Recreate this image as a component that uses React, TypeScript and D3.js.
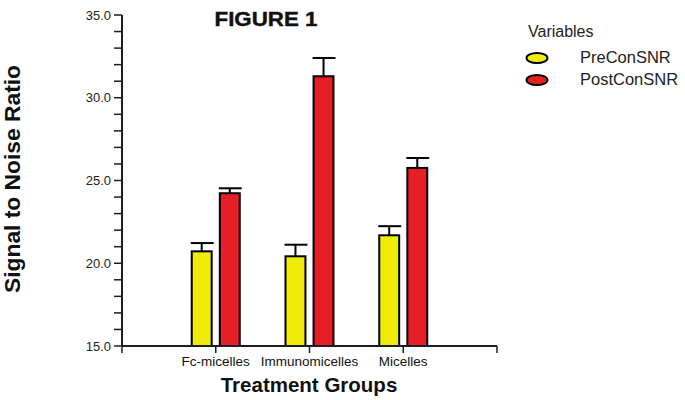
import React from "react";
import * as d3 from "d3";

const categories = ["Fc-micelles", "Immunomicelles", "Micelles"];
const seriesNames = ["PreConSNR", "PostConSNR"];
const preValues = [20.72, 20.42, 21.69];
const preErrors = [0.5, 0.7, 0.55];
const postValues = [24.23, 31.3, 25.76];
const postErrors = [0.3, 1.1, 0.6];
const yMajorTicks = [15, 20, 25, 30, 35];
const seriesColors = ["#efec0a", "#e61e26"];

const W = 685;
const H = 400;
const axisColor = "#1c1c2a";
const font = "Arial, 'Liberation Sans', sans-serif";

export default function App() {
  const x0 = 122;
  const x1 = 497;
  const yTop = 15;
  const yBot = 346;

  const y = d3.scaleLinear().domain([15, 35]).range([yBot, yTop]);
  const x = d3.scalePoint<string>().domain(categories).range([x0, x1]).padding(1);
  const inner = d3
    .scaleBand<string>()
    .domain(seriesNames)
    .range([-24, 24])
    .paddingInner(0.29);

  const minorTicks = d3.range(15, 35.01, 1);
  const values = [preValues, postValues];
  const errors = [preErrors, postErrors];
  const bw = inner.bandwidth();

  const xTicks = [x0, ...categories.map((c) => x(c) as number), x1];

  return (
    <svg width={W} height={H} style={{ position: "absolute", left: 0, top: 0, background: "#fff" }}>
      <rect x={0} y={0} width={W} height={H} fill="#fff" />
      {/* title */}
      <text
        x={266}
        y={26}
        textAnchor="middle"
        fontFamily={font}
        fontWeight="bold"
        fontSize={19.5}
        textLength={103}
        lengthAdjust="spacingAndGlyphs"
        fill="#111"
        stroke="#111"
        strokeWidth={0.4}
      >
        FIGURE 1
      </text>

      {/* bars */}
      {categories.map((c, ci) =>
        seriesNames.map((s, si) => {
          const cx = (x(c) as number) + (inner(s) as number);
          const v = values[si][ci];
          const e = errors[si][ci];
          const mid = cx + bw / 2;
          return (
            <g key={c + s}>
              <line x1={mid} x2={mid} y1={y(v)} y2={y(v + e)} stroke="#000" strokeWidth={2} />
              <line x1={cx - 1} x2={cx + bw + 2} y1={y(v + e)} y2={y(v + e)} stroke="#000" strokeWidth={2} />
              <rect
                x={cx}
                y={y(v)}
                width={bw}
                height={yBot - y(v)}
                fill={seriesColors[si]}
                stroke="#000"
                strokeWidth={2}
              />
            </g>
          );
        })
      )}

      {/* y axis */}
      <line x1={x0} x2={x0} y1={yTop} y2={yBot} stroke={axisColor} strokeWidth={2} />
      {minorTicks.map((t) => (
        <line key={t} x1={x0 - 8} x2={x0} y1={y(t)} y2={y(t)} stroke={axisColor} strokeWidth={1.5} />
      ))}
      {yMajorTicks.map((t) => (
        <text
          key={t}
          x={111}
          y={y(t) + 4.5}
          textAnchor="end"
          fontFamily={font}
          fontSize={13}
          fill="#222"
        >
          {t.toFixed(1)}
        </text>
      ))}

      {/* x axis */}
      <line x1={x0} x2={x1} y1={yBot} y2={yBot} stroke={axisColor} strokeWidth={2} />
      {xTicks.map((t, i) => (
        <line key={i} x1={t} x2={t} y1={yBot} y2={yBot + 7} stroke={axisColor} strokeWidth={1.5} />
      ))}
      {categories.map((c) => (
        <text
          key={c}
          x={x(c) as number}
          y={366}
          textAnchor="middle"
          fontFamily={font}
          fontSize={13.5}
          fill="#111"
        >
          {c}
        </text>
      ))}

      {/* axis titles */}
      <text
        x={309}
        y={392}
        textAnchor="middle"
        fontFamily={font}
        fontWeight="bold"
        fontSize={20.5}
        fill="#111"
      >
        Treatment Groups
      </text>
      <text
        transform={`translate(20, 179) rotate(-90)`}
        textAnchor="middle"
        fontFamily={font}
        fontWeight="bold"
        fontSize={22.5}
        textLength={228}
        lengthAdjust="spacingAndGlyphs"
        fill="#111"
      >
        Signal to Noise Ratio
      </text>

      {/* legend */}
      <text x={528} y={37} fontFamily={font} fontSize={16} fill="#222">
        Variables
      </text>
      {seriesNames.map((s, i) => (
        <g key={s}>
          <ellipse cx={537} cy={58 + i * 22} rx={10.5} ry={5} fill={seriesColors[i]} stroke="#000" strokeWidth={2} />
          <text x={580} y={63 + i * 22} fontFamily={font} fontSize={16.5} fill="#222">
            {s}
          </text>
        </g>
      ))}
    </svg>
  );
}
